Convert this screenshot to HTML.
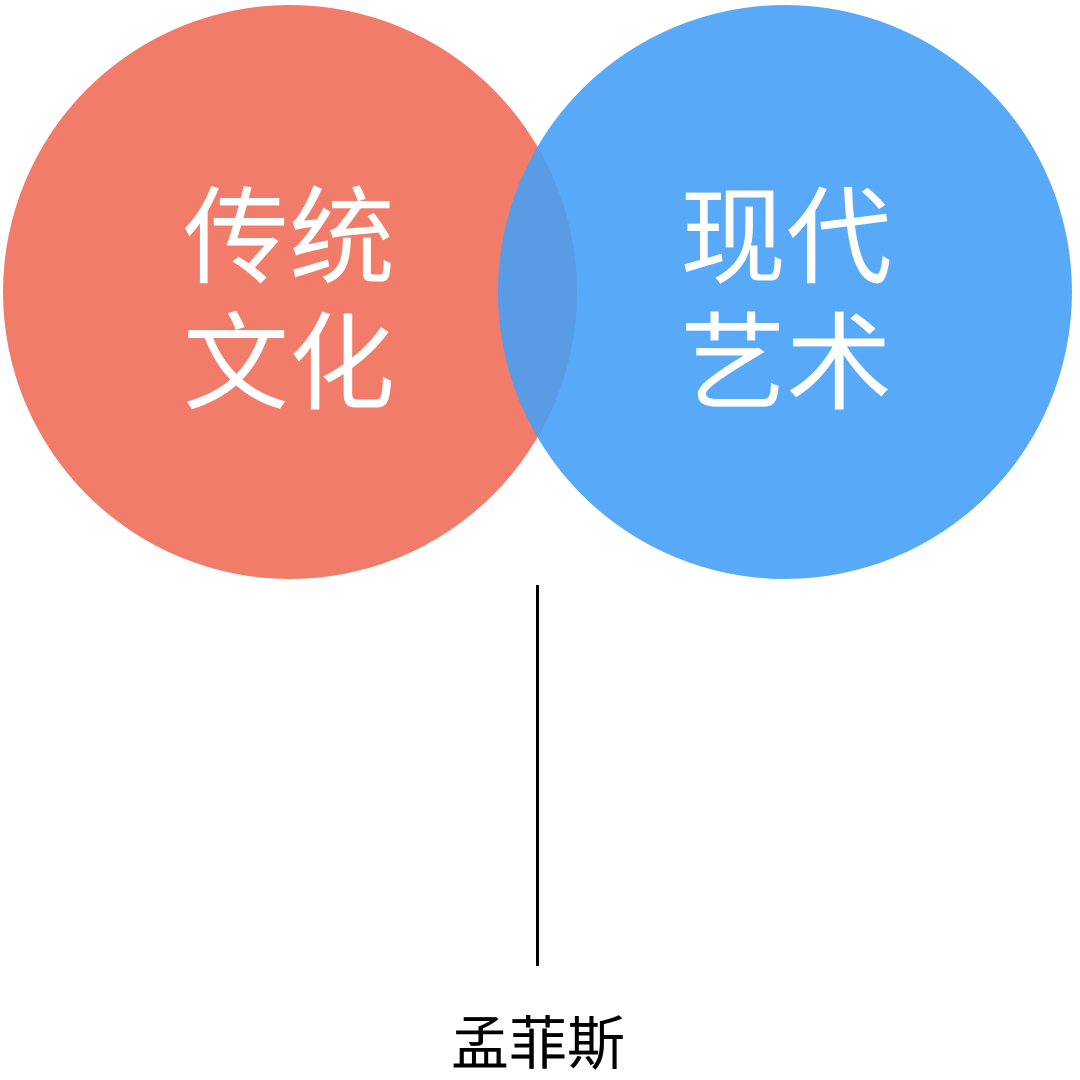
<!DOCTYPE html>
<html><head><meta charset="utf-8"><style>
html,body{margin:0;padding:0;background:#fff;}
svg{display:block}
text{font-family:"Liberation Sans","Noto Sans CJK SC",sans-serif;}
</style></head><body>
<svg width="1080" height="1080" viewBox="0 0 1080 1080">
<defs><clipPath id="c"><circle cx="290" cy="292" r="287"/></clipPath></defs>
<circle cx="290" cy="292" r="287" fill="#f07c69"/>
<circle cx="785" cy="292" r="287" fill="#58a9f7"/>
<circle cx="785" cy="292" r="287" fill="#5a9be6" clip-path="url(#c)"/>
<g fill="#fff" font-size="106" text-anchor="middle">
<text x="289" y="275">传统</text>
<text x="289" y="401">文化</text>
<text x="786" y="275">现代</text>
<text x="786" y="401">艺术</text>
</g>
<line x1="537.5" y1="585" x2="537.5" y2="966" stroke="#000" stroke-width="3"/>
<text x="538" y="1064" font-size="58" text-anchor="middle" fill="#000">孟菲斯</text>
</svg>
</body></html>
